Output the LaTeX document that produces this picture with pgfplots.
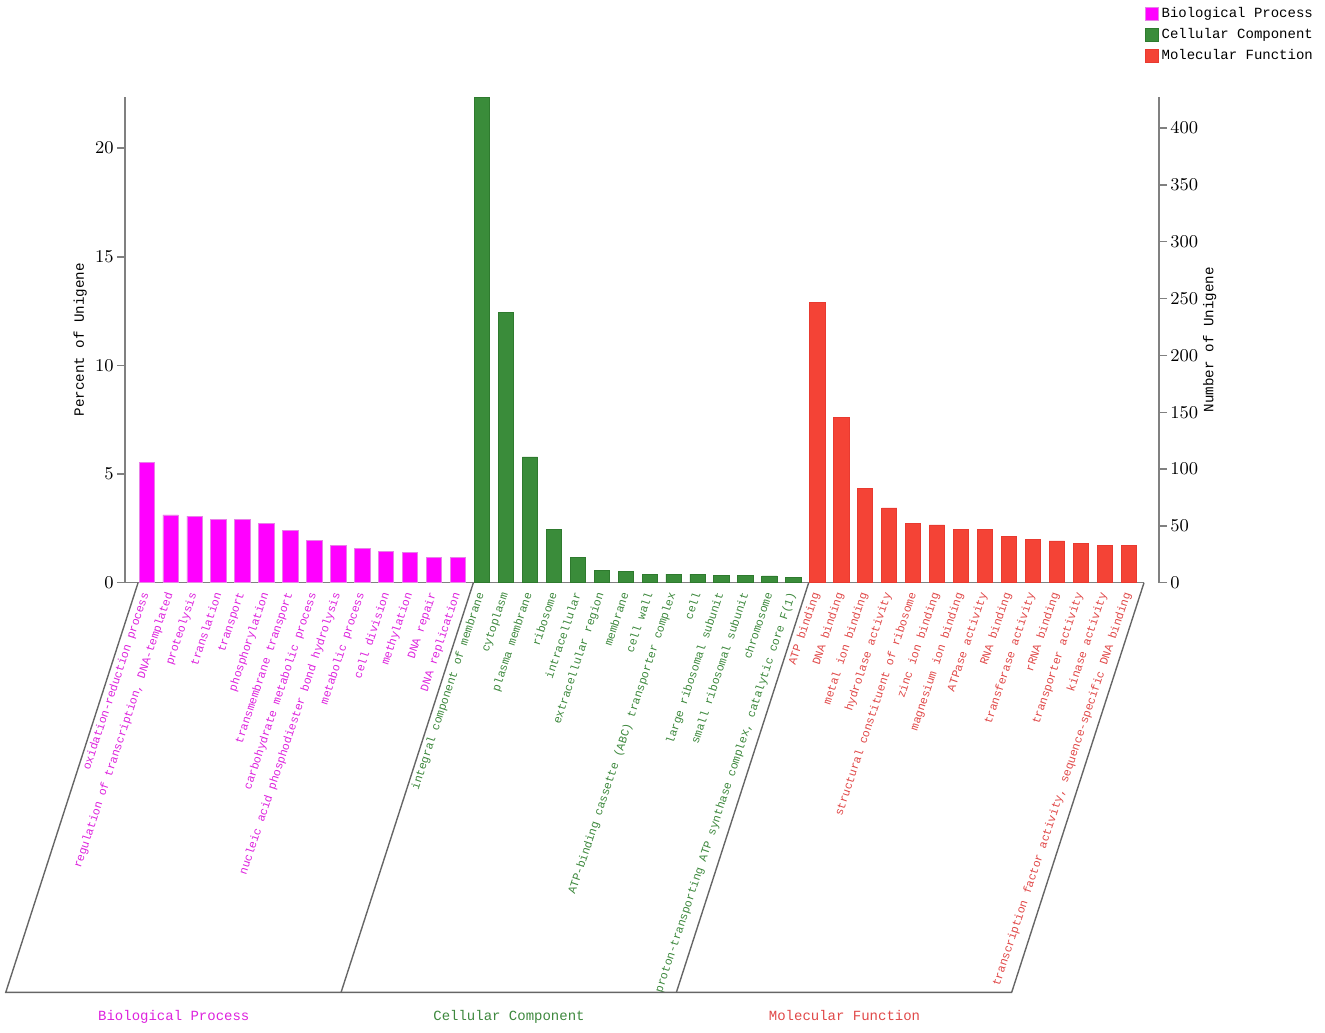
\documentclass[border=0pt]{standalone}
\usepackage{pgfplots}
\pgfplotsset{compat=1.18}
\usepackage{fontspec}
\setmainfont{Liberation Mono}
\definecolor{bpbar}{HTML}{FF00FF}
\definecolor{bpedge}{HTML}{E880E8}
\definecolor{bptxt}{HTML}{DD22DD}
\definecolor{ccbar}{HTML}{3A8C3A}
\definecolor{ccedge}{HTML}{2E7A2E}
\definecolor{cctxt}{HTML}{3D883D}
\definecolor{mfbar}{HTML}{F44336}
\definecolor{mfedge}{HTML}{E83A30}
\definecolor{mftxt}{HTML}{E04848}
\definecolor{axisgray}{HTML}{808080}
\definecolor{framegray}{HTML}{666666}
\newcommand{\B}[1]{\textcolor{bptxt}{#1}}
\newcommand{\C}[1]{\textcolor{cctxt}{#1}}
\newcommand{\M}[1]{\textcolor{mftxt}{#1}}
\begin{document}
\begin{tikzpicture}
\useasboundingbox (0,0) rectangle (662.5pt,516pt);
\begin{axis}[
  at={(62.5pt,224.65pt)}, anchor=south west,
  scale only axis, width=509.5pt, height=243pt,
  xmin=-0.906, xmax=41.64, ymin=0, ymax=22.37,
  axis x line*=bottom, axis y line*=left,
  axis line style={draw=axisgray, line width=0.7pt},
  clip=false,
  xtick={0,...,41},
  x tick style={draw=none},
  xticklabels={\B{oxidation-reduction process},{\B{regulation of transcription, DNA-templated}},\B{proteolysis},\B{translation},\B{transport},\B{phosphorylation},\B{transmembrane transport},\B{carbohydrate metabolic process},\B{nucleic acid phosphodiester bond hydrolysis},\B{metabolic process},\B{cell division},\B{methylation},\B{DNA repair},\B{DNA replication},
  \C{integral component of membrane},\C{cytoplasm},\C{plasma membrane},\C{ribosome},\C{intracellular},\C{extracellular region},\C{membrane},\C{cell wall},\C{ATP-binding cassette (ABC) transporter complex},\C{cell},\C{large ribosomal subunit},\C{small ribosomal subunit},\C{chromosome},{\C{proton-transporting ATP synthase complex, catalytic core F(1)}},
  \M{ATP binding},\M{DNA binding},\M{metal ion binding},\M{hydrolase activity},\M{structural constituent of ribosome},\M{zinc ion binding},\M{magnesium ion binding},\M{ATPase activity},\M{RNA binding},\M{transferase activity},\M{rRNA binding},\M{transporter activity},\M{kinase activity},{\M{transcription factor activity, sequence-specific DNA binding}}},
  xticklabel style={rotate=71.5, anchor=east, inner sep=1pt, font=\fontsize{5.75}{6}\selectfont},
  ytick={0,5,10,15,20},
  tick align=outside, major tick length=4pt,
  y tick style={draw=axisgray, line width=0.7pt},
  yticklabel style={font=\fontsize{8.7}{9}\selectfont, inner sep=1.5pt},
  ylabel={Percent of Unigene},
  ylabel style={at={(axis description cs:-0.044,0.5)}, anchor=center, font=\fontsize{7.1}{8}\selectfont},
  legend image code/.code={\draw[#1] (0pt,-3.2pt) rectangle (6.5pt,3.2pt);},
  legend style={at={(axis description cs:1.001,1.1895)}, anchor=north west, draw=none, fill=none,
    font=\fontsize{7}{8}\selectfont, inner sep=0pt, row sep=1.5pt,
    nodes={inner sep=1.2pt}},
  legend cell align=left,
]
\addplot[ybar, bar width=0.64, bar shift=0pt, fill=bpbar, draw=bpedge, line width=0.4pt] coordinates {
(0,5.52) (1,3.12) (2,3.07) (3,2.92) (4,2.92) (5,2.72) (6,2.39) (7,1.96) (8,1.72) (9,1.57) (10,1.44) (11,1.41) (12,1.18) (13,1.15)};
\addlegendentry{Biological Process}
\addplot[ybar, bar width=0.64, bar shift=0pt, fill=ccbar, draw=ccedge, line width=0.4pt] coordinates {
(14,22.35) (15,12.42) (16,5.79) (17,2.44) (18,1.18) (19,0.57) (20,0.51) (21,0.40) (22,0.40) (23,0.40) (24,0.34) (25,0.34) (26,0.31) (27,0.25)};
\addlegendentry{Cellular Component}
\addplot[ybar, bar width=0.64, bar shift=0pt, fill=mfbar, draw=mfedge, line width=0.4pt] coordinates {
(28,12.89) (29,7.60) (30,4.33) (31,3.44) (32,2.72) (33,2.66) (34,2.47) (35,2.47) (36,2.13) (37,2.01) (38,1.92) (39,1.81) (40,1.70) (41,1.70)};
\addlegendentry{Molecular Function}
\draw[framegray, line width=0.7pt] (axis cs:-0.36,0) -- ++(-66.15pt,-204.8pt) -- ++(503.15pt,0pt);
\draw[framegray, line width=0.7pt] (axis cs:13.64,0) -- ++(-66.15pt,-204.8pt);
\draw[framegray, line width=0.7pt] (axis cs:27.64,0) -- ++(-66.15pt,-204.8pt);
\draw[framegray, line width=0.7pt] (axis cs:41.64,0) -- ++(-66.15pt,-204.8pt);
\end{axis}
\begin{axis}[
  at={(62.5pt,224.65pt)}, anchor=south west,
  scale only axis, width=517pt, height=243pt,
  xmin=0, xmax=1, ymin=0, ymax=427.7,
  axis x line=none, axis y line*=right,
  axis line style={draw=axisgray, line width=0.7pt},
  ytick={0,50,...,400},
  tick align=outside, major tick length=4pt,
  y tick style={draw=axisgray, line width=0.7pt},
  yticklabel style={font=\fontsize{8.7}{9}\selectfont, inner sep=1.5pt},
  ylabel={Number of Unigene},
  ylabel style={at={(axis description cs:1.049,0.5)}, anchor=center, font=\fontsize{7.1}{8}\selectfont},
]
\end{axis}
\node[font=\fontsize{7}{8}\selectfont, text=bptxt, anchor=base] at (86.9pt,6pt) {Biological Process};
\node[font=\fontsize{7}{8}\selectfont, text=cctxt, anchor=base] at (254.5pt,6pt) {Cellular Component};
\node[font=\fontsize{7}{8}\selectfont, text=mftxt, anchor=base] at (422.25pt,6pt) {Molecular Function};
\end{tikzpicture}
\end{document}
